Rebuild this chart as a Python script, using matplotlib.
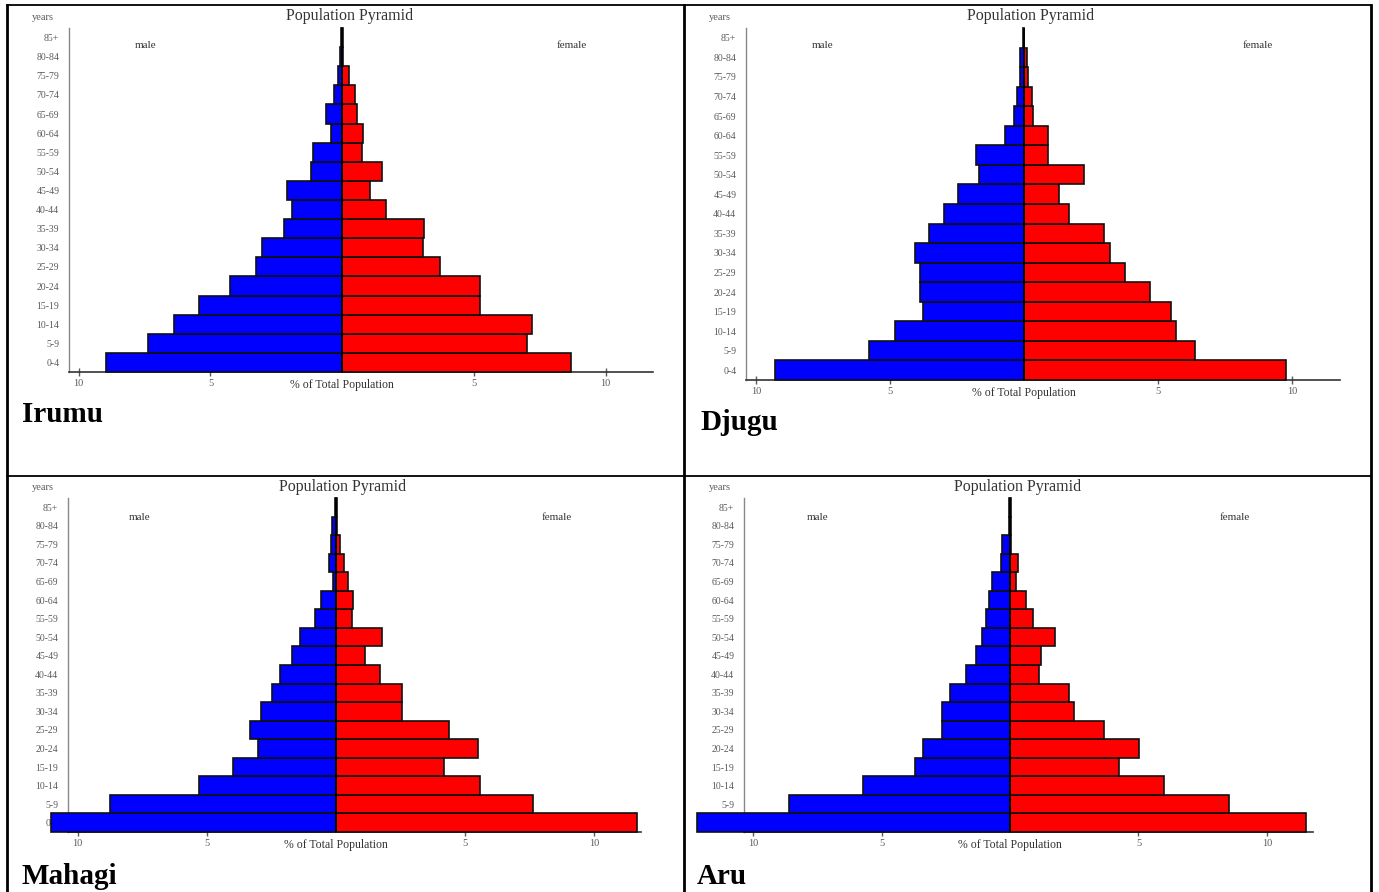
import matplotlib
matplotlib.use("Agg")
import matplotlib.pyplot as plt
from matplotlib.lines import Line2D
import numpy as np

W, H = 1379, 892

AGE_GROUPS = ["0-4", "5-9", "10-14", "15-19", "20-24", "25-29", "30-34", "35-39",
              "40-44", "45-49", "50-54", "55-59", "60-64", "65-69", "70-74",
              "75-79", "80-84", "85+"]
TICK_VALUES = [-10, -5, 5, 10]
TICK_LABELS = ["10", "5", "5", "10"]

IRUMU_MALE = [8.97, 7.38, 6.38, 5.43, 4.27, 3.28, 3.05, 2.22, 1.92, 2.08,
              1.17, 1.10, 0.43, 0.62, 0.32, 0.17, 0.07, 0.03]
IRUMU_FEMALE = [8.67, 7.03, 7.20, 5.23, 5.23, 3.70, 3.07, 3.12, 1.68, 1.07,
                1.52, 0.77, 0.78, 0.57, 0.47, 0.25, 0.05, 0.03]

DJUGU_MALE = [9.29, 5.79, 4.82, 3.78, 3.87, 3.87, 4.05, 3.54, 2.99, 2.47,
              1.68, 1.78, 0.69, 0.38, 0.25, 0.16, 0.13, 0.02]
DJUGU_FEMALE = [9.79, 6.37, 5.67, 5.48, 4.69, 3.78, 3.21, 3.01, 1.69, 1.33,
                2.25, 0.89, 0.89, 0.36, 0.31, 0.15, 0.12, 0.02]

MAHAGI_MALE = [11.02, 8.76, 5.32, 4.00, 3.02, 3.32, 2.90, 2.47, 2.15, 1.72,
               1.40, 0.83, 0.60, 0.10, 0.29, 0.20, 0.17, 0.03]
MAHAGI_FEMALE = [11.63, 7.63, 5.59, 4.17, 5.50, 4.36, 2.54, 2.54, 1.70, 1.12,
                 1.79, 0.60, 0.65, 0.48, 0.32, 0.14, 0.05, 0.03]

ARU_MALE = [12.2, 8.61, 5.74, 3.70, 3.39, 2.67, 2.64, 2.36, 1.71, 1.34,
            1.10, 0.94, 0.82, 0.70, 0.34, 0.31, 0.03, 0.03]
ARU_FEMALE = [11.54, 8.54, 5.98, 4.23, 5.02, 3.66, 2.47, 2.31, 1.11, 1.22,
              1.76, 0.89, 0.60, 0.21, 0.29, 0.03, 0.02, 0.02]

SERIF = "Liberation Serif"
GREY = "#5a5a5a"


def fx(x):
    return x / W


def fy(y):
    return 1 - y / H


def pyramid(fig, box, male, female, name, txt):
    left, top, right, bottom = box
    ax = fig.add_axes([fx(left), fy(bottom), fx(right - left), (bottom - top) / H])
    y = np.arange(len(AGE_GROUPS))
    ax.barh(y, -np.array(male), height=1.0, color="#0000ff", edgecolor="#101010",
            linewidth=1.2, clip_on=False, zorder=3)
    ax.barh(y, female, height=1.0, color="#ff0000", edgecolor="#101010",
            linewidth=1.2, clip_on=False, zorder=3)
    ax.axvline(0, color="black", lw=1.3, zorder=4)
    ax.set_xlim(-10.37, 11.8)
    ax.set_ylim(-0.5, len(AGE_GROUPS) - 0.5)
    ax.set_yticks(y)
    ax.set_yticklabels(AGE_GROUPS, fontsize=7, family=SERIF, color=GREY)
    ax.tick_params(axis="y", length=0, pad=7)
    ax.set_xticks(TICK_VALUES)
    ax.set_xticklabels(TICK_LABELS, fontsize=7.5, family=SERIF, color=GREY)
    ax.tick_params(axis="x", direction="inout", length=6, width=1, color=GREY, pad=2)
    for s in ["top", "right"]:
        ax.spines[s].set_visible(False)
    ax.spines["left"].set_color("#888888")
    ax.spines["left"].set_linewidth(1.0)
    ax.spines["bottom"].set_color("#333333")
    ax.spines["bottom"].set_linewidth(1.2)
    ax.patch.set_alpha(0)

    yx, ty, mx, fxx, xl_y, nx, ny = txt
    cx = left + (0 - (-10.37)) / 22.17 * (right - left)
    fig.text(fx(yx), fy(ty + 1), "years", fontsize=7.5, family=SERIF, color=GREY,
             ha="center", va="center")
    fig.text(fx(cx + 7), fy(ty), "Population Pyramid", fontsize=11.5, family=SERIF,
             color="#333333", ha="center", va="center")
    fig.text(fx(mx), fy(ty + 30), "male", fontsize=8, family=SERIF, color="#333333",
             ha="center", va="center")
    fig.text(fx(fxx), fy(ty + 30), "female", fontsize=8, family=SERIF, color="#333333",
             ha="center", va="center")
    fig.text(fx(cx), fy(xl_y), "% of Total Population", fontsize=8.5, family=SERIF,
             color="#333333", ha="center", va="center")
    fig.text(fx(nx), fy(ny), name, fontsize=21, family=SERIF, weight="bold",
             color="black", ha="left", va="center")


fig = plt.figure(figsize=(W / 100, H / 100), dpi=100)

pyramid(fig, (69, 28, 653, 372), IRUMU_MALE, IRUMU_FEMALE, "Irumu",
        (43, 16, 146, 572, 385, 22, 415))
pyramid(fig, (746, 28, 1340, 380), DJUGU_MALE, DJUGU_FEMALE, "Djugu",
        (720, 16, 823, 1258, 393, 700, 423))
pyramid(fig, (68, 498, 641, 832), MAHAGI_MALE, MAHAGI_FEMALE, "Mahagi",
        (43, 487, 140, 557, 845, 22, 877))
pyramid(fig, (744, 498, 1313, 832), ARU_MALE, ARU_FEMALE, "Aru",
        (720, 487, 818, 1235, 845, 697, 877))

# table cell borders
lines = [
    ((7, 1371), (5, 5), 1.3),
    ((7, 1371), (476, 476), 1.3),
    ((7, 7), (5, 892), 2.0),
    ((684, 684), (5, 892), 2.0),
    ((1371, 1371), (5, 892), 2.0),
]
for xs, ys, lw in lines:
    fig.add_artist(Line2D([fx(xs[0]), fx(xs[1])], [fy(ys[0]), fy(ys[1])],
                          transform=fig.transFigure, color="black", lw=lw, zorder=10))

fig.savefig("out.png", dpi=100)
